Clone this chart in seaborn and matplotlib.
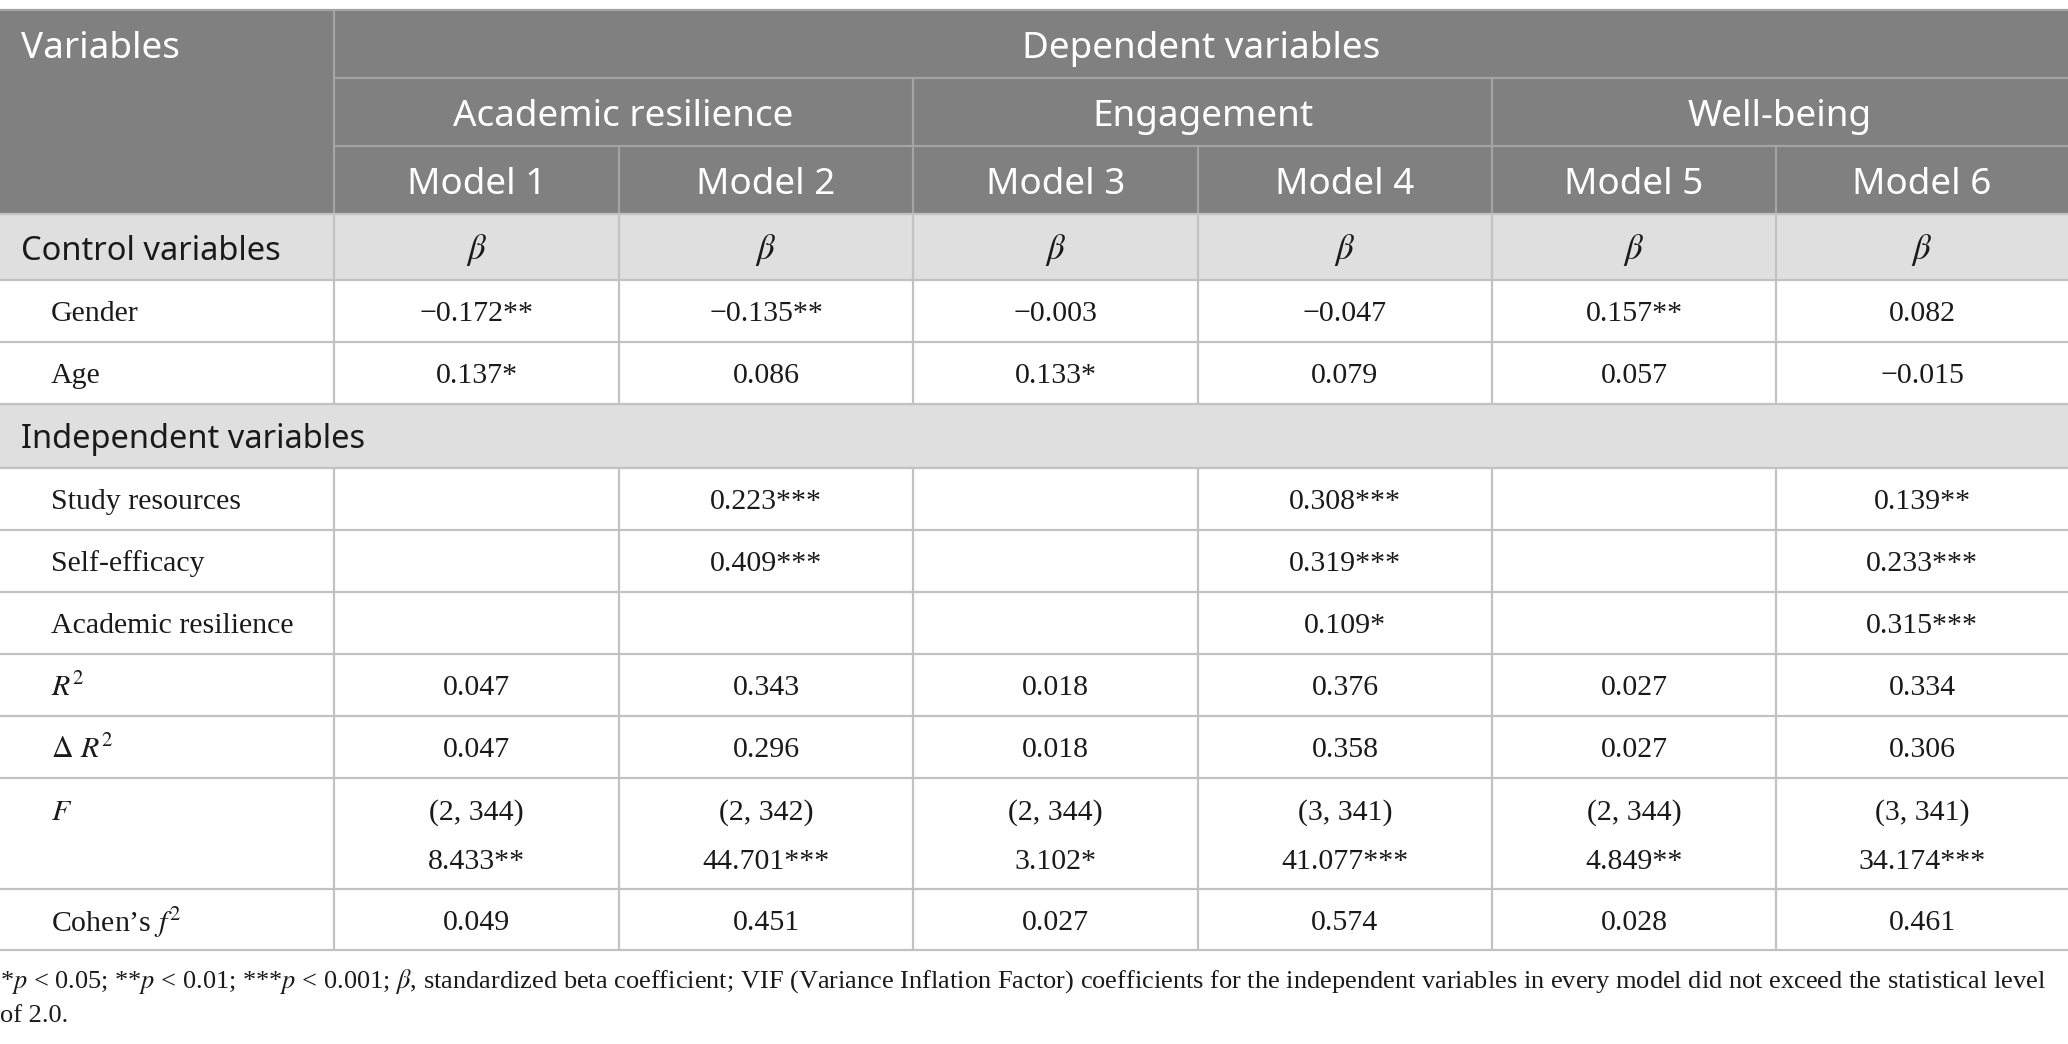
import matplotlib
matplotlib.use("Agg")
import matplotlib.pyplot as plt
import seaborn as sns
from matplotlib.patches import Rectangle

# Table content
models = ["Model 1", "Model 2", "Model 3", "Model 4", "Model 5", "Model 6"]
outcomes = ["Academic resilience", "Engagement", "Well-being"]
gender = ["\u22120.172**", "\u22120.135**", "\u22120.003", "\u22120.047", "0.157**", "0.082"]
age = ["0.137*", "0.086", "0.133*", "0.079", "0.057", "\u22120.015"]
study_resources = ["", "0.223***", "", "0.308***", "", "0.139**"]
self_efficacy = ["", "0.409***", "", "0.319***", "", "0.233***"]
academic_resilience = ["", "", "", "0.109*", "", "0.315***"]
r_squared = ["0.047", "0.343", "0.018", "0.376", "0.027", "0.334"]
delta_r_squared = ["0.047", "0.296", "0.018", "0.358", "0.027", "0.306"]
f_df = ["(2, 344)", "(2, 342)", "(2, 344)", "(3, 341)", "(2, 344)", "(3, 341)"]
f_value = ["8.433**", "44.701***", "3.102*", "41.077***", "4.849**", "34.174***"]
cohen_f2 = ["0.049", "0.451", "0.027", "0.574", "0.028", "0.461"]
footnote = [
    r"*$p$ < 0.05; **$p$ < 0.01; ***$p$ < 0.001; $\beta$, standardized beta coefficient; "
    "VIF (Variance Inflation Factor) coefficients for the independent variables in every model did not exceed the statistical level",
    "of 2.0.",
]

sns.set_theme(style="white")
plt.rcParams["mathtext.fontset"] = "stix"

HEADER = "#7f807f"
BAND = "#e0dfe0"
LINE_HEAD = "#a3a4a3"
LINE_BODY = "#c2c2c2"
INK = "#1a1a1a"
SANS = "Noto Sans"
SERIF = "Liberation Serif"

# layout in pixels of the 2068x1044 image
cols = [0, 334, 619, 913, 1198, 1492, 1776, 2068]
centers = [(cols[i] + cols[i + 1]) / 2 for i in range(1, 7)]

fig = plt.figure(figsize=(20.68, 10.44), dpi=100)
ax = fig.add_axes([0, 0, 1, 1])
ax.set_xlim(0, 2068)
ax.set_ylim(1044, 0)
ax.axis("off")


def rect(x0, x1, y0, y1, color):
    ax.add_patch(Rectangle((x0, y0), x1 - x0, y1 - y0, color=color, lw=0, zorder=0))


def hline(y, x0, x1, color):
    ax.plot([x0, x1], [y, y], color=color, lw=1.6, zorder=2, solid_capstyle="butt")


def vline(x, y0, y1, color):
    ax.plot([x, x], [y0, y1], color=color, lw=1.6, zorder=2, solid_capstyle="butt")


# header block
rect(0, 2068, 10, 214, HEADER)
hline(10, 0, 2068, LINE_HEAD)
hline(78, cols[1], 2068, LINE_HEAD)
hline(146, cols[1], 2068, LINE_HEAD)
vline(cols[1], 10, 214, LINE_HEAD)
for i in (3, 5):
    vline(cols[i], 78, 214, LINE_HEAD)
for i in (2, 4, 6):
    vline(cols[i], 146, 214, LINE_HEAD)

hs = 26.5
ax.text(21, 49, "Variables", color="white", fontsize=hs, family=SANS, va="center")
ax.text((cols[1] + 2068) / 2, 49, "Dependent variables", color="white", fontsize=hs,
        family=SANS, va="center", ha="center")
for k, name in enumerate(outcomes):
    ax.text((cols[1 + 2 * k] + cols[3 + 2 * k]) / 2, 117, name, color="white", fontsize=hs,
            family=SANS, va="center", ha="center")
for c, m in zip(centers, models):
    ax.text(c, 185, m, color="white", fontsize=hs, family=SANS, va="center", ha="center")

# body rows: (top, bottom, label, values)
bs = 21.5
body = [
    (280, 342, "Gender", gender),
    (342, 404, "Age", age),
    (468, 530, "Study resources", study_resources),
    (530, 592, "Self-efficacy", self_efficacy),
    (592, 654, "Academic resilience", academic_resilience),
    (654, 716, r"$R^2$", r_squared),
    (716, 778, r"$\Delta$ $R^2$", delta_r_squared),
    (889, 950, r"Cohen’s $f^2$", cohen_f2),
]

# section bands
ss = 23.5
rect(0, 2068, 214, 280, BAND)
rect(0, 2068, 404, 468, BAND)
ax.text(21, 251, "Control variables", color=INK, fontsize=ss, family=SANS, va="center")
ax.text(21, 440, "Independent variables", color=INK, fontsize=ss, family=SANS, va="center")
for c in centers:
    ax.text(c, 250, r"$\beta$", color=INK, fontsize=25, va="center", ha="center")

for top, bot, label, vals in body:
    mid = (top + bot) / 2 + 3
    ax.text(51, mid, label, fontsize=bs, family=SERIF, va="center", color=INK)
    for c, v in zip(centers, vals):
        ax.text(c, mid, v, fontsize=bs, family=SERIF, va="center", ha="center", color=INK)

# F row with two lines
ax.text(51, 813, r"$F$", fontsize=bs, family=SERIF, va="center", color=INK)
for c, a, b in zip(centers, f_df, f_value):
    ax.text(c, 813, a, fontsize=bs, family=SERIF, va="center", ha="center", color=INK)
    ax.text(c, 862, b, fontsize=bs, family=SERIF, va="center", ha="center", color=INK)

# grid lines in the body
for y in (214, 280, 342, 404, 468, 530, 592, 654, 716, 778, 889, 950):
    hline(y, 0, 2068, LINE_BODY)
for x in cols[1:-1]:
    vline(x, 214, 404, LINE_BODY)
    vline(x, 468, 950, LINE_BODY)

ax.text(0, 982, footnote[0], fontsize=19, family=SERIF, va="center", color=INK)
ax.text(0, 1016, footnote[1], fontsize=19, family=SERIF, va="center", color=INK)

fig.savefig("out.png", dpi=100, facecolor="white")
